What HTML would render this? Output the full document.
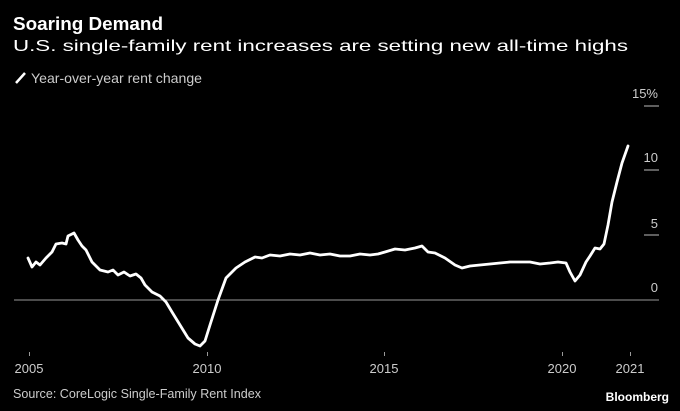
<!DOCTYPE html>
<html><head><style>
body{margin:0;background:#000;width:680px;height:411px;overflow:hidden;font-family:"Liberation Sans",sans-serif;}
</style></head><body>
<svg width="680" height="411" xmlns="http://www.w3.org/2000/svg" style="display:block">
<rect width="680" height="411" fill="#000"/>
<text x="13" y="30" fill="#fff" font-size="18" font-weight="bold" textLength="150" lengthAdjust="spacingAndGlyphs">Soaring Demand</text>
<text x="13" y="51" fill="#fff" font-size="16" textLength="615" lengthAdjust="spacingAndGlyphs">U.S. single-family rent increases are setting new all-time highs</text>
<line x1="16" y1="83" x2="25" y2="73" stroke="#fff" stroke-width="2.5"/>
<text x="31" y="83" fill="#ccc" font-size="14" textLength="171" lengthAdjust="spacingAndGlyphs">Year-over-year rent change</text>
<g fill="#ccc" font-size="13" text-anchor="end">
<text x="658" y="98">15%</text>
<text x="658" y="162">10</text>
<text x="658" y="228">5</text>
<text x="658" y="292">0</text>
</g>
<g stroke="#bbb" stroke-width="1">
<line x1="644" y1="106" x2="659" y2="106"/>
<line x1="644" y1="170" x2="659" y2="170"/>
<line x1="644" y1="235" x2="659" y2="235"/>
<line x1="14" y1="300" x2="659" y2="300" stroke="#999"/>
</g>
<g fill="#ccc" font-size="13" text-anchor="middle">
<text x="29" y="373">2005</text>
<text x="207" y="373">2010</text>
<text x="384" y="373">2015</text>
<text x="562" y="373">2020</text>
<text x="630" y="373">2021</text>
</g>
<g stroke="#999"><line x1="29.5" y1="352" x2="29.5" y2="356"/><line x1="207.5" y1="352" x2="207.5" y2="356"/><line x1="384.5" y1="352" x2="384.5" y2="356"/><line x1="562.5" y1="352" x2="562.5" y2="356"/><line x1="630.5" y1="352" x2="630.5" y2="356"/></g>
<text x="13" y="398" fill="#ccc" font-size="13" textLength="248" lengthAdjust="spacingAndGlyphs">Source: CoreLogic Single-Family Rent Index</text>
<text x="669" y="401" fill="#fff" font-size="12" font-weight="bold" text-anchor="end">Bloomberg</text>
<path fill="none" stroke="#fff" stroke-width="2.8" stroke-linejoin="round" stroke-linecap="round"
d="M28,258 L32,267 L36,262 L40,265 L46,258 L52,252 L56,244 L62,243 L66,244 L68,236 L74,233 L78,240 L82,246 L86,250 L92,262 L100,270 L108,272 L113,270 L118,275 L124,272 L130,276 L136,274 L141,278 L145,285 L152,292 L160,296 L166,302 L172,312 L180,325 L188,338 L195,344 L200,346 L205,341 L210,325 L218,300 L226,278 L236,268 L245,262 L255,257 L262,258 L270,255 L280,256 L290,254 L300,255 L310,253 L320,255 L330,254 L340,256 L350,256 L360,254 L370,255 L378,254 L385,252 L395,249 L405,250 L415,248 L422,246 L428,252 L435,253 L445,258 L455,265 L462,268 L470,266 L480,265 L490,264 L500,263 L510,262 L520,262 L530,262 L540,264 L550,263 L558,262 L566,263 L570,272 L575,281 L580,275 L586,262 L590,256 L595,248 L600,249 L604,244 L608,225 L612,202 L617,182 L622,163 L628,146"/>
</svg>
</body></html>
